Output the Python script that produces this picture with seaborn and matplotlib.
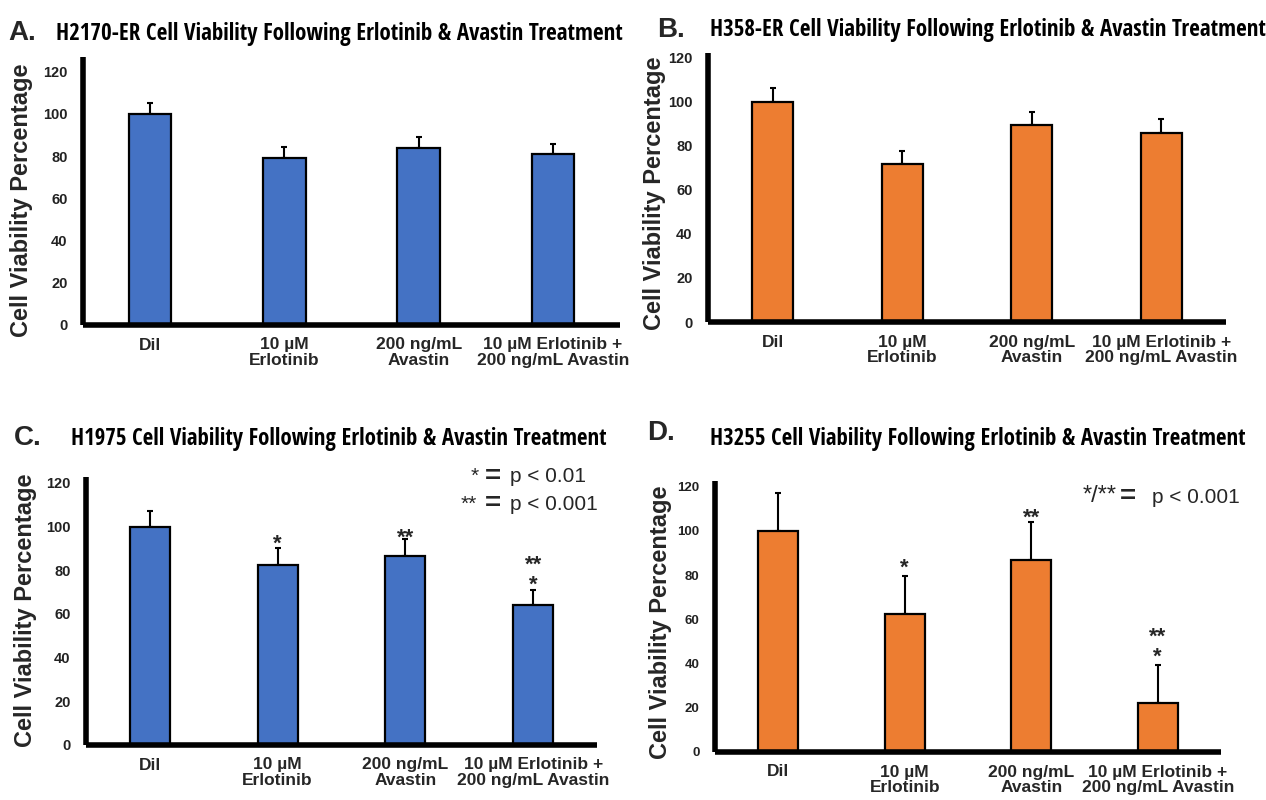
import re
import matplotlib
matplotlib.use("Agg")
import matplotlib.pyplot as plt
import seaborn as sns
import pandas as pd
from matplotlib import font_manager
from matplotlib.font_manager import FontProperties
from matplotlib.textpath import TextPath

sns.set_theme(style="white")
plt.rcParams['font.family'] = ['Liberation Sans', 'DejaVu Sans']

# ---------------- data ----------------
categories = ["Dil", "10 µM\nErlotinib", "200 ng/mL\nAvastin", "10 µM Erlotinib +\n200 ng/mL Avastin"]

h2170_mean = [100.0, 79.2, 84.0, 80.8]
h2170_err = [5.0, 5.0, 5.3, 5.0]

h358_mean = [100.0, 71.7, 89.2, 85.8]
h358_err = [6.1, 5.9, 6.2, 6.1]

h1975_mean = [100.0, 82.3, 86.5, 63.9]
h1975_err = [7.3, 7.7, 7.6, 7.0]

h3255_mean = [100.0, 62.4, 86.8, 22.2]
h3255_err = [17.2, 17.2, 17.1, 17.1]

titles = [
    "H2170-ER Cell Viability Following Erlotinib & Avastin Treatment",
    "H358-ER Cell Viability Following Erlotinib & Avastin Treatment",
    "H1975 Cell Viability Following Erlotinib & Avastin Treatment",
    "H3255 Cell Viability Following Erlotinib & Avastin Treatment",
]
panel_letters = ["A.", "B.", "C.", "D."]
yticks = [0, 20, 40, 60, 80, 100, 120]

BLUE = "#4472C4"
ORANGE = "#ED7D31"

# ---------------- figure ----------------
W, H = 1266, 800
fig = plt.figure(figsize=(W / 100, H / 100), dpi=100)
fig.patch.set_facecolor("white")


def px_axes(left, right, top, bottom):
    return fig.add_axes([left / W, 1 - bottom / H, (right - left) / W, (bottom - top) / H])


def ftext(x, y, s, **kw):
    return fig.text(x / W, 1 - y / H, s, **kw)


def draw_panel(ax, means, errs, color, ytop, tick_fs, sig=None):
    df = pd.DataFrame({"cond": categories, "val": means})
    sns.barplot(data=df, x="cond", y="val", ax=ax, color=color, saturation=1,
                edgecolor="black", linewidth=1.6, width=0.315, errorbar=None, zorder=2)
    ax.errorbar(range(len(means)), means, yerr=[[0] * len(errs), errs], fmt="none",
                ecolor="black", elinewidth=1.5, capsize=2, capthick=1.5, zorder=1)
    ax.set_xlim(-0.5, len(means) - 0.5)
    ax.set_ylim(0, ytop)
    ax.set_yticks(yticks)
    ax.set_yticklabels([str(t) for t in yticks], fontsize=tick_fs, fontweight="bold",
                       color="#222222")
    ax.set_xticks(range(len(categories)))
    ax.set_xticklabels(categories, fontsize=12.5, fontweight="bold", linespacing=1.05)
    ax.tick_params(axis="y", length=0, pad=11)
    ax.tick_params(axis="x", length=0, pad=9)
    ax.set_xlabel("")
    ax.set_ylabel("")
    for s in ["top", "right"]:
        ax.spines[s].set_visible(False)
    for s in ["left", "bottom"]:
        ax.spines[s].set_linewidth(4)
        ax.spines[s].set_color("black")
        ax.spines[s].set_capstyle("butt")
    ax.set_facecolor("white")
    ax.grid(False)
    if sig is not None:
        for i, (lab, yc) in enumerate(sig):
            for txt, yv in zip(lab, yc):
                if txt:
                    ax.annotate(txt, (i, yv), xytext=(0, -8.5), textcoords="offset points",
                                ha="center", va="baseline", fontsize=16, fontweight="bold")


# panel A
axA = px_axes(83, 620, 57, 325)
draw_panel(axA, h2170_mean, h2170_err, BLUE, 127, 10.5)
# panel B
axB = px_axes(708, 1226, 53, 322)
draw_panel(axB, h358_mean, h358_err, ORANGE, 122, 10.5)
# panel C
sigC = [([""], [0]), (["*"], [94.7]), (["**"], [97.6]), (["**", "*"], [85.2, 76.2])]
axC = px_axes(86, 597, 477, 745)
draw_panel(axC, h1975_mean, h1975_err, BLUE, 122.7, 10.5, sig=sigC)
# panel D
sigD = [([""], [0]), (["*"], [86.0]), (["**"], [108.7]), (["**", "*"], [54.6, 45.6])]
axD = px_axes(715, 1221, 481, 752)
draw_panel(axD, h3255_mean, h3255_err, ORANGE, 122.6, 9.5, sig=sigD)

# y labels
for (x, y) in [(22, 200), (655, 193), (26, 610), (661, 622)]:
    ftext(x, y, "Cell Viability Percentage", rotation=90, ha="center", va="center",
          fontsize=17, fontweight="bold")

# ---- choose the narrowest installed bold sans font for the titles ----
name_re = re.compile(r"^(Noto Sans|DejaVu Sans|Liberation Sans|Open Sans|Roboto|Lato|Inter)"
                     r"( (Narrow|Condensed|SemiCondensed|ExtraCondensed|Semi ?Condensed|Extra ?Condensed))?$")


def weight_num(w):
    if isinstance(w, (int, float)):
        return w
    return font_manager.weight_dict.get(str(w), 400)


sample = titles[0]
best = None
for fe in font_manager.fontManager.ttflist:
    if not name_re.match(fe.name) or fe.style != "normal":
        continue
    wn = weight_num(fe.weight)
    if wn < 650 or wn > 800:
        continue
    try:
        fp = FontProperties(fname=fe.fname)
        w = TextPath((0, 0), sample, size=1, prop=fp).get_extents().width
    except Exception:
        continue
    if w <= 0:
        continue
    if best is None or w < best[1]:
        best = (fe.fname, w)

if best is None:
    best = (font_manager.findfont(FontProperties(family="Liberation Sans", weight="bold")), None)
title_fp_path = best[0]

title_widths = [564, 553, 533, 533]
letter_pos = [(8, 33), (657, 30), (14, 438), (647, 433)]
title_pos = [(56, 34), (710, 30), (71, 439), (710, 439)]
for (lx, ly), (tx, ty), let, t, tw in zip(letter_pos, title_pos, panel_letters, titles, title_widths):
    ftext(lx, ly, let, fontsize=20, fontweight="bold", va="center", ha="left")
    fp = FontProperties(fname=title_fp_path)
    w1 = TextPath((0, 0), t, size=1, prop=fp).get_extents().width
    fs = min(tw / (w1 * 100 / 72), 19.5)
    fp.set_size(fs)
    ftext(tx, ty, t, fontproperties=fp, va="center", ha="left", color="black")

# p-value legend C
ftext(479, 482, "*", fontsize=15, ha="right", va="baseline")
ftext(493, 477, "=", fontsize=20, fontweight="bold", ha="center", va="center")
ftext(510, 482, "p < 0.01", fontsize=15, ha="left", va="baseline")
ftext(477, 510, "**", fontsize=15, ha="right", va="baseline")
ftext(493, 504, "=", fontsize=20, fontweight="bold", ha="center", va="center")
ftext(510, 510, "p < 0.001", fontsize=15, ha="left", va="baseline")

# p-value legend D
ftext(1117, 502, "*/**", fontsize=17, ha="right", va="baseline")
ftext(1128, 497, "=", fontsize=20, fontweight="bold", ha="center", va="center")
ftext(1152, 503, "p < 0.001", fontsize=15, ha="left", va="baseline")

fig.savefig("out.png", dpi=100, facecolor="white")
